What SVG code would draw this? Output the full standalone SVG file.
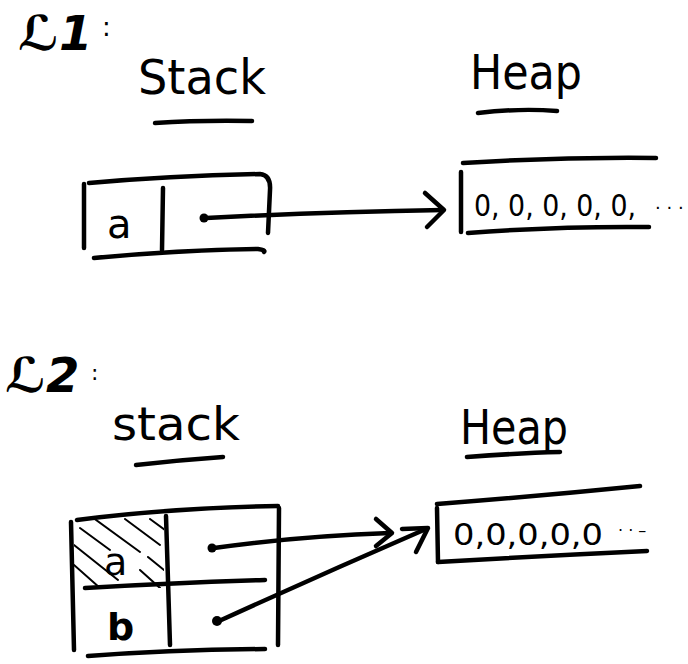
<svg xmlns="http://www.w3.org/2000/svg" width="688" height="664" viewBox="0 0 688 664">
<style>
.s{fill:none;stroke:#000;stroke-width:4.5;stroke-linecap:round;stroke-linejoin:round}
.t{font-family:"DejaVu Sans","Liberation Sans",sans-serif;fill:#000}
.h{fill:none;stroke:#000;stroke-width:2;stroke-linecap:round}
</style>
<defs>
<clipPath id="cellA"><rect x="74" y="518" width="90" height="70"/></clipPath>
</defs>
<rect width="688" height="664" fill="#fff"/>

<g id="label1">
<text class="t" x="18" y="50" font-size="48" font-style="italic" font-weight="bold">ℒ1</text>
<text class="t" x="102" y="36" font-size="26">:</text>
</g>
<g id="stack1-title">
<text class="t" x="138" y="94" font-size="48" textLength="128" lengthAdjust="spacingAndGlyphs">Stack</text>
<path class="s" d="M155,123 Q200,120 252,121"/>
</g>
<g id="heap1-title">
<text class="t" x="470" y="89" font-size="48" textLength="112" lengthAdjust="spacingAndGlyphs">Heap</text>
<path class="s" d="M478,113 Q520,108 557,111"/>
</g>

<g id="stack1">
<path class="s" d="M89,183 Q170,176 260,174 Q271,175 270,190 L268,233"/>
<path class="s" d="M84,184 L84,248"/>
<path class="s" d="M163,188 L162,250"/>
<path class="s" d="M94,258 Q180,250 258,249 Q266,250 264,252"/>
<text class="t" x="107" y="238" font-size="40">a</text>
<circle cx="204" cy="218" r="4.5" fill="#000"/>
</g>

<g id="heap1">
<path class="s" d="M461,172 L461,232"/>
<path class="s" d="M463,163 Q560,157 656,158"/>
<path class="s" d="M468,233 Q560,226 649,227"/>
<text class="t" x="474" y="216" font-size="30" textLength="162" lengthAdjust="spacingAndGlyphs">0, 0, 0, 0, 0,</text>
<text class="t" x="655" y="214" font-size="18">· · ·</text>
</g>

<g id="label2">
<text class="t" x="5" y="392" font-size="48" font-style="italic" font-weight="bold">ℒ2</text>
<text class="t" x="91" y="380" font-size="22">:</text>
</g>
<g id="stack2-title">
<text class="t" x="112" y="440" font-size="46" textLength="128" lengthAdjust="spacingAndGlyphs">stack</text>
<path class="s" d="M136,465 Q180,460 223,457"/>
</g>
<g id="heap2-title">
<text class="t" x="460" y="444" font-size="48" textLength="108" lengthAdjust="spacingAndGlyphs">Heap</text>
<path class="s" d="M467,457 Q520,453 560,452"/>
</g>

<g id="stack2">
<g clip-path="url(#cellA)">
<path class="h" d="M80,528 L110,550 M92,517 L140,552 M125,519 L160,545 M150,519 L165,530 M74,545 L118,580 M74,565 L100,588 M140,570 L160,588 M148,557 L164,570"/>
</g>
<path class="s" d="M77,520 Q170,508 278,506"/>
<path class="s" d="M279,508 L278,645"/>
<path class="s" d="M71,522 L74,650"/>
<path class="s" d="M166,516 L170,645"/>
<path class="s" d="M85,588 Q170,583 265,580"/>
<path class="s" d="M88,656 Q170,650 265,649"/>
<text class="t" x="104" y="575" font-size="38">a</text>
<text class="t" x="107" y="640" font-size="38" font-weight="bold">b</text>
<circle cx="212" cy="548" r="4.5" fill="#000"/>
<circle cx="217" cy="621" r="5" fill="#000"/>
</g>

<g id="heap2">
<path class="s" d="M437,508 L438,562"/>
<path class="s" d="M437,504 Q540,496 640,486"/>
<path class="s" d="M438,562 Q540,556 647,551"/>
<text class="t" x="453" y="545" font-size="30" textLength="150" lengthAdjust="spacingAndGlyphs">0,0,0,0,0</text>
<text class="t" x="618" y="536" font-size="16">· · –</text>
</g>

<g id="connectors">
<path class="s" d="M206,218 Q320,212 443,210"/>
<path class="s" d="M425,193 L444,210 L427,227"/>
<path class="s" d="M214,548 Q300,536 390,533"/>
<path class="s" d="M376,519 L392,533 L376,546"/>
<path class="s" stroke-width="7" d="M219,621 Q320,575 426,529"/>
<path class="s" stroke-width="7" d="M402,529 L428,528 L416,552"/>
</g>
</svg>
